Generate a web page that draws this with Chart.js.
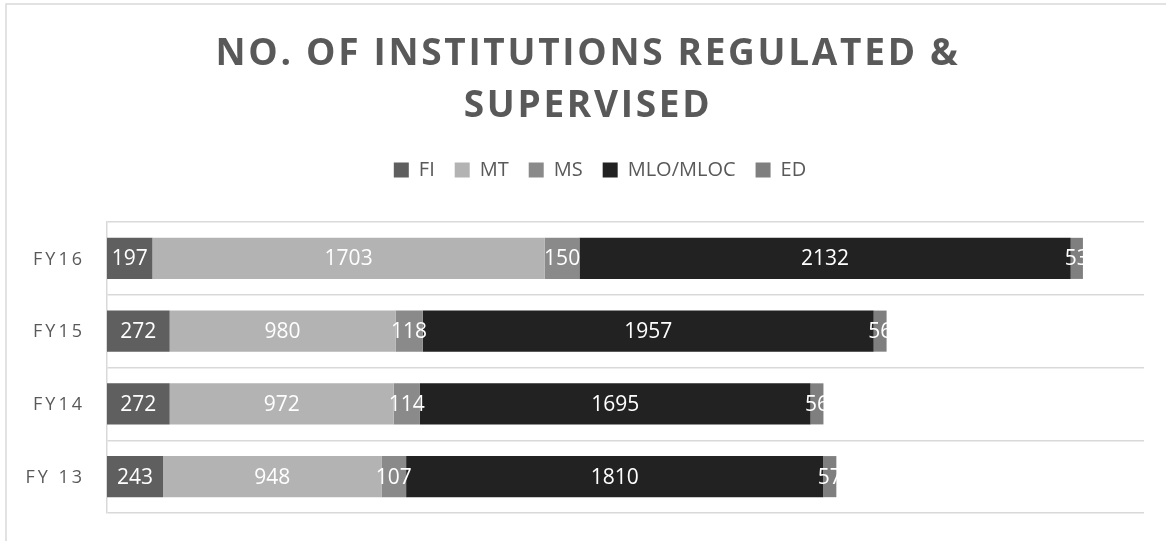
<!DOCTYPE html>
<html lang="en">
<head>
    <meta charset="UTF-8">
    <title>No. of Institutions Regulated & Supervised</title>
    <script src="https://cdn.jsdelivr.net/npm/chart.js"></script>
    <style>
        html, body { margin: 0; padding: 0; background: #fff; }
        .wrap { position: relative; width: 1166px; height: 541px; }
    </style>
</head>
<body>
    <div class="wrap">
        <canvas id="instChart" width="1166" height="541"></canvas>
    </div>

    <script>
        // chart data
        const years = ["FY16", "FY15", "FY14", "FY 13"];
        const seriesNames = ["FI", "MT", "MS", "MLO/MLOC", "ED"];
        const fi = [197, 272, 272, 243];
        const mt = [1703, 980, 972, 948];
        const ms = [150, 118, 114, 107];
        const mlo = [2132, 1957, 1695, 1810];
        const ed = [53, 56, 56, 57];
        const xMax = 4500;
        const titleLines = ["NO. OF INSTITUTIONS REGULATED &", "SUPERVISED"];

        const colors = ["#5f5f5f", "#b3b3b3", "#8a8a8a", "#222222", "#7f7f7f"];
        const textGray = "#595959";
        const lineGray = "#d9d9d9";
        const fontFamily = "'Open Sans', sans-serif";

        // title, y labels, value labels and frame drawn by hand (letter spacing)
        const extrasPlugin = {
            id: "extras",
            beforeDraw(chart) {
                const ctx = chart.ctx;
                ctx.save();
                ctx.strokeStyle = lineGray;
                ctx.lineWidth = 1.5;
                ctx.beginPath();
                ctx.moveTo(6, 541);
                ctx.lineTo(6, 4);
                ctx.lineTo(1166, 4);
                ctx.stroke();
                ctx.restore();
            },
            afterDatasetsDraw(chart) {
                const ctx = chart.ctx;
                ctx.save();
                ctx.font = "21px " + fontFamily;
                ctx.fillStyle = "#ffffff";
                ctx.textAlign = "center";
                ctx.textBaseline = "middle";
                chart.data.datasets.forEach((ds, i) => {
                    const meta = chart.getDatasetMeta(i);
                    meta.data.forEach((bar, j) => {
                        const p = bar.getProps(["x", "y", "base"], true);
                        ctx.fillText(String(ds.data[j]), (p.base + p.x) / 2, p.y + 1);
                    });
                });
                ctx.restore();
            },
            afterDraw(chart) {
                const ctx = chart.ctx;
                const yScale = chart.scales.y;
                ctx.save();
                ctx.fillStyle = textGray;

                // title
                ctx.font = "bold 37px " + fontFamily;
                ctx.letterSpacing = "2.7px";
                ctx.textAlign = "center";
                ctx.textBaseline = "alphabetic";
                ctx.fillText(titleLines[0], 588, 65);
                ctx.fillText(titleLines[1], 588, 117);

                // category labels
                ctx.font = "18px " + fontFamily;
                ctx.letterSpacing = "3px";
                ctx.textAlign = "right";
                ctx.textBaseline = "middle";
                years.forEach((label, i) => {
                    ctx.fillText(label, 85, yScale.getPixelForValue(i) + 1);
                });
                ctx.restore();
            }
        };

        const seriesData = [fi, mt, ms, mlo, ed];

        function buildChart() {
            const ctx = document.getElementById("instChart").getContext("2d");
            new Chart(ctx, {
                type: "bar",
                data: {
                    labels: years,
                    datasets: seriesNames.map((name, i) => ({
                        label: name,
                        data: seriesData[i],
                        backgroundColor: colors[i],
                        borderWidth: 0,
                        barPercentage: 0.565,
                        categoryPercentage: 1
                    }))
                },
                options: {
                    indexAxis: "y",
                    responsive: false,
                    animation: false,
                    layout: { padding: { left: 56, right: 22, top: 140, bottom: 28 } },
                    scales: {
                        x: {
                            stacked: true,
                            position: "top",
                            min: 0,
                            max: xMax,
                            ticks: { display: false },
                            grid: { display: false },
                            border: { display: false },
                            afterFit: s => { s.height = 32; }
                        },
                        y: {
                            stacked: true,
                            ticks: { display: false },
                            grid: { color: lineGray, lineWidth: 1.5, offset: true, drawTicks: false },
                            border: { display: true, color: lineGray, width: 1.5 },
                            afterFit: s => { s.width = 51; }
                        }
                    },
                    plugins: {
                        title: { display: false },
                        tooltip: { enabled: false },
                        legend: {
                            position: "top",
                            labels: {
                                boxWidth: 15,
                                boxHeight: 15,
                                padding: 20,
                                color: textGray,
                                font: { family: fontFamily, size: 20 }
                            }
                        }
                    }
                },
                plugins: [extrasPlugin]
            });
        }

        document.addEventListener("DOMContentLoaded", buildChart);
    </script>
</body>
</html>
